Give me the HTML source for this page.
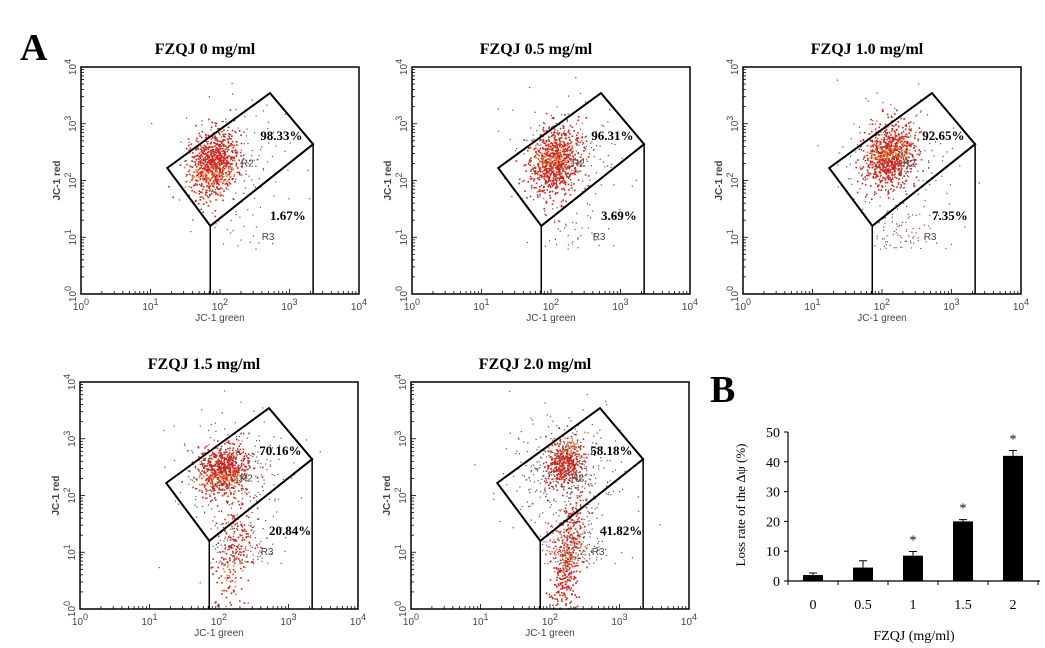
<!DOCTYPE html>
<html><head><meta charset="utf-8"><style>
body{margin:0;background:#fff;}
svg{display:block;font-family:"Liberation Serif",serif;}
.ax{font-family:"Liberation Sans",sans-serif;font-size:10px;fill:#444;}
</style></head><body>
<svg id="fig" width="1045" height="648" viewBox="0 0 1045 648">
<text x="20" y="60" font-size="38" font-weight="bold">A</text>
<text x="710" y="402" font-size="38" font-weight="bold">B</text>
<g id="plots"></g>
<g id="bars"></g>
</svg>
<script>
// Flow cytometry panels
const plotTitles = ["FZQJ 0 mg/ml","FZQJ 0.5 mg/ml","FZQJ 1.0 mg/ml","FZQJ 1.5 mg/ml","FZQJ 2.0 mg/ml"];
const r2Pct = ["98.33%","96.31%","92.65%","70.16%","58.18%"];
const r3Pct = ["1.67%","3.69%","7.35%","20.84%","41.82%"];
// gate vertices in log10 units
const gateR2 = [[1.24,2.22],[2.72,3.54],[3.34,2.64],[1.86,1.2]];
// clusters: [cx, cy, sx, sy, count] (log units) per plot
const redClusters = [
 [[1.9,2.3,0.17,0.30,750]],
 [[2.05,2.35,0.18,0.30,750]],
 [[2.1,2.45,0.18,0.28,750]],
 [[2.05,2.45,0.18,0.22,600],[2.2,1.0,0.13,0.55,200]],
 [[2.2,2.6,0.14,0.22,400],[2.25,0.9,0.1,0.6,400]]
];
const greyCounts = [140,170,200,260,350];
const r3Counts = [25,45,90,150,220];

const frames = [[81,67],[412,67],[743,67],[80,382],[411,382]];
const W=278,H=227,DX=W/4,DY=H/4;
const NS="http://www.w3.org/2000/svg";
function mk(tag,attrs,parent){const e=document.createElementNS(NS,tag);for(const k in attrs)e.setAttribute(k,attrs[k]);parent.appendChild(e);return e;}
function halton(i,b){let f=1,r=0;while(i>0){f/=b;r+=f*(i%b);i=Math.floor(i/b);}return r;}
function gauss(i,b1,b2){const u=Math.max(halton(i,b1),1e-4),v=halton(i,b2);return Math.sqrt(-2*Math.log(u))*Math.cos(2*Math.PI*v);}

const gp=document.getElementById('plots');
frames.forEach((f,p)=>{
 const [x0,y0]=f;
 const sx=l=>x0+l*DX, sy=l=>y0+H-l*DY;
 const g=mk('g',{},gp);
 
 
 const t=mk('text',{x:x0+W/2-15,y:y0-13,'text-anchor':'middle','font-size':'16','font-weight':'bold'},g);
 t.textContent=plotTitles[p];
 
 
 const dots=mk('g',{},g);
 
 
 let idx=1+p*997;
 redClusters[p].forEach(c=>{
  for(let i=0;i<c[4];i++){idx++;
   const a=gauss(idx,2,3),b=gauss(idx,5,7);
   const lx=c[0]+c[2]*a+0.12*c[3]*b, ly=c[1]+c[3]*b;
   if(lx<0||ly<0||lx>4||ly>4)continue;
   mk('rect',{x:sx(lx).toFixed(1),y:sy(ly).toFixed(1),width:1.6,height:1.6,fill:(i%7==0)?'#e8803a':'#d42218'},dots);
  }});
 for(let i=0;i<greyCounts[p];i++){idx++;
  const lx=2.2+0.4*gauss(idx,2,3), ly=2.4+0.5*gauss(idx,5,7);
  if(lx<0||ly<0||lx>4||ly>4)continue;
  mk('rect',{x:sx(lx).toFixed(1),y:sy(ly).toFixed(1),width:1.2,height:1.2,fill:'#555'},dots);}
 for(let i=0;i<r3Counts[p];i++){idx++;
  const lx=2.25+0.3*gauss(idx,2,3), ly=0.8+0.45*Math.abs(gauss(idx,5,7));
  if(lx<1.87||ly<0||lx>3.3||ly>1.6)continue;
  mk('rect',{x:sx(lx).toFixed(1),y:sy(ly).toFixed(1),width:1.2,height:1.2,fill:(i%3==0)?'#c33':'#555'},dots);}
 const pts=gateR2.map(q=>sx(q[0]).toFixed(1)+','+sy(q[1]).toFixed(1)).join(' ');
 const r2=mk('polygon',{points:pts,fill:'none',stroke:'#000','stroke-width':2},g);
 
 
 const r3=mk('polyline',{points:`${sx(gateR2[3][0])},${sy(0)} ${sx(gateR2[3][0])},${sy(gateR2[3][1])} ${sx(gateR2[2][0])},${sy(gateR2[2][1])} ${sx(gateR2[2][0])},${sy(0)}`,fill:'none',stroke:'#000','stroke-width':1.5},g);
 
 
 const fr=mk('rect',{x:x0,y:y0,width:W,height:H,fill:'none',stroke:'#000','stroke-width':1.5},g);
 
 
 for(let d=0;d<4;d++)for(let m=1;m<10;m++){const l=d+Math.log10(m);const len=m==1?5:3;
  mk('line',{x1:sx(l),x2:sx(l),y1:y0+H,y2:y0+H-len,stroke:'#000','stroke-width':0.8},g);
  mk('line',{x1:x0,x2:x0+len,y1:sy(l),y2:sy(l),stroke:'#000','stroke-width':0.8},g);}
 for(let d=0;d<=4;d++){
  const tx=mk('text',{x:sx(d),y:y0+H+16,'text-anchor':'middle',class:'ax','font-size':'12'},g);
  tx.innerHTML='10<tspan dy="-5" font-size="9">'+d+'</tspan>';
  
  
  const ty=mk('text',{x:0,y:0,'text-anchor':'middle',class:'ax','font-size':'12',transform:`translate(${x0-5},${sy(d)}) rotate(-90)`},g);
  ty.innerHTML='10<tspan dy="-5" font-size="9">'+d+'</tspan>';
  
  }
 const xl=mk('text',{x:sx(2),y:y0+H+27,'text-anchor':'middle',class:'ax'},g);xl.textContent='JC-1 green';
 
 
 const yl=mk('text',{x:0,y:0,'text-anchor':'middle',class:'ax',transform:`translate(${x0-21},${sy(2)}) rotate(-90)`,'font-weight':'bold','font-size':'9'},g);yl.textContent='JC-1 red';
 
 
 const labs=[[r2Pct[p],2.58,2.71,13,'bold'],['R2',2.3,2.25,11,''],[r3Pct[p],2.72,1.3,13,'bold'],['R3',2.6,0.95,11,'']];
 labs.forEach(L=>{const e=mk('text',{x:sx(L[1]),y:sy(L[2]),'font-size':L[3],'font-weight':L[4]||'normal'},g);
  if(L[0][0]=='R')e.setAttribute('class','ax'),e.setAttribute('font-size','11');
  e.textContent=L[0];
  
  });
});

// Bar chart B
const cats=["0","0.5","1","1.5","2"];
const vals=[2,4.5,8.5,20,42];
const errs=[0.7,2.3,1.4,0.6,1.8];
const sig=[false,false,true,true,true];
const yTicks=[0,10,20,30,40,50];
const bg=document.getElementById('bars');
const bx0=788,bx1=1040,by0=581,by50=432;
const yS=v=>by0-(v/50)*(by0-by50);
const xS=i=>813+i*50;
const ax=mk('path',{d:`M${bx0},${by50} V${by0} H${bx1}`,fill:'none',stroke:'#000','stroke-width':1.2},bg);


yTicks.forEach(v=>{mk('line',{x1:bx0-4,x2:bx0,y1:yS(v),y2:yS(v),stroke:'#000'},bg);
 const t=mk('text',{x:bx0-8,y:yS(v)+5,'text-anchor':'end','font-size':'14'},bg);t.textContent=v;
 
 });
for(let i=0;i<=cats.length;i++)mk('line',{x1:bx0+i*50,x2:bx0+i*50,y1:by0,y2:by0+4,stroke:'#000'},bg);
cats.forEach((c,i)=>{
 const top=yS(vals[i]);
 const r=mk('rect',{x:xS(i)-10,y:top,width:20,height:by0-top,fill:'#000'},bg);
 
 
 const ey=yS(vals[i]+errs[i]);
 mk('path',{d:`M${xS(i)},${top} V${ey} M${xS(i)-4},${ey} H${xS(i)+4}`,stroke:'#000','stroke-width':1},bg);
 if(sig[i]){const s=mk('text',{x:xS(i),y:ey-7,'text-anchor':'middle','font-size':'14'},bg);s.textContent='*';
  
  }
 const t=mk('text',{x:xS(i),y:609,'text-anchor':'middle','font-size':'14'},bg);t.textContent=c;
 
 
});
const xt=mk('text',{x:914,y:640,'text-anchor':'middle','font-size':'14'},bg);xt.textContent='FZQJ (mg/ml)';


const yt=mk('text',{x:0,y:0,'text-anchor':'middle','font-size':'13',transform:'translate(745,505) rotate(-90)'},bg);yt.textContent='Loss rate of the \u0394\u03C8  (%)';


</script>
</body></html>
